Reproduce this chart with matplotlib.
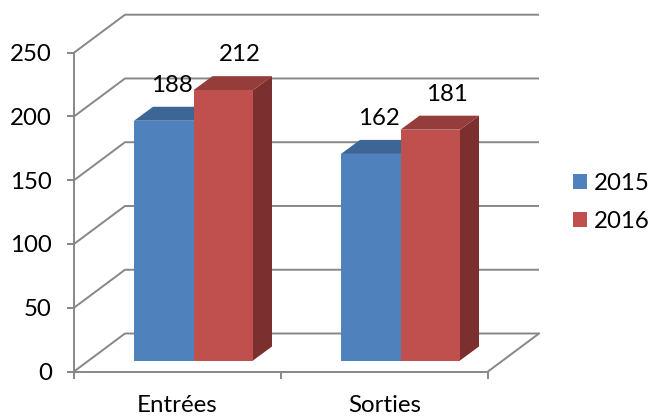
import matplotlib
matplotlib.use('Agg')
import matplotlib.pyplot as plt
from matplotlib.patches import Polygon, Patch

# ---- data ----
categories = ['Entrées', 'Sorties']
series_names = ['2015', '2016']
values_2015 = [188, 162]
values_2016 = [212, 181]
y_ticks = [0, 50, 100, 150, 200, 250]

# ---- style ----
front_colors = ['#4F81BD', '#C0504D']
top_colors = ['#3D6696', '#943D3B']
side_colors = ['#2F5078', '#7B302F']
grid_color = '#878787'
FONT = ['Lato', 'DejaVu Sans']
FS = 17.3
plt.rcParams['font.family'] = FONT

W, H, DPI = 651, 416, 100
fig = plt.figure(figsize=(W / DPI, H / DPI), dpi=DPI)
fig.patch.set_facecolor('white')
L, R, B, T = 74, 488, 371.5, 52.7
ax = fig.add_axes([L / W, 1 - B / H, (R - L) / W, (B - T) / H])
ax.set_xlim(0, len(categories))
ax.set_ylim(0, 250)
ax.set_facecolor('none')

px_x = (R - L) / len(categories)
px_y = (B - T) / 250.0


def dx(p):
    return p / px_x


def dy(p):
    return p / px_y


wall = (dx(51), dy(38))
bar_off = (dx(16), dy(11))
depth = (dx(19), dy(14))
bar_w = dx(59.5)
lw = 1.4

# gridlines (diagonal on side wall + horizontal on back wall)
xmax = len(categories)
for y in y_ticks:
    ax.plot([0, wall[0], xmax + wall[0]], [y, y + wall[1], y + wall[1]],
            color=grid_color, lw=lw, clip_on=False, zorder=1,
            solid_capstyle='butt')
# right floor edge
ax.plot([xmax, xmax + wall[0]], [0, wall[1]], color=grid_color, lw=lw,
        clip_on=False, zorder=1)

# bars
series = [values_2015, values_2016]
label_off = dy(15)
label_shift = [dx(-1), dx(7)]
for i, cat in enumerate(categories):
    center = i + 0.5
    for j, vals in enumerate(series):
        v = vals[i]
        x0 = center - bar_w + j * bar_w + bar_off[0]
        x1 = x0 + bar_w
        y0 = bar_off[1]
        y1 = v + bar_off[1]
        ddx, ddy = depth
        side = Polygon([(x1, y0), (x1, y1), (x1 + ddx, y1 + ddy), (x1 + ddx, y0 + ddy)],
                       closed=True, facecolor=side_colors[j], edgecolor='none',
                       clip_on=False, zorder=2 + j * 3)
        top = Polygon([(x0, y1), (x1, y1), (x1 + ddx, y1 + ddy), (x0 + ddx, y1 + ddy)],
                      closed=True, facecolor=top_colors[j], edgecolor='none',
                      clip_on=False, zorder=3 + j * 3)
        front = Polygon([(x0, y0), (x1, y0), (x1, y1), (x0, y1)],
                        closed=True, facecolor=front_colors[j], edgecolor='none',
                        clip_on=False, zorder=4 + j * 3)
        for p in (side, top, front):
            ax.add_patch(p)
        ax.text((x0 + x1) / 2 + ddx / 2 + label_shift[j], y1 + ddy + label_off, str(v),
                ha='center', va='baseline', fontsize=FS, color='black',
                zorder=20, clip_on=False)

# axes / spines
for s in ('top', 'right'):
    ax.spines[s].set_visible(False)
for s in ('left', 'bottom'):
    ax.spines[s].set_color(grid_color)
    ax.spines[s].set_linewidth(lw)
    ax.spines[s].set_zorder(1)

ax.set_yticks(y_ticks)
ax.set_yticklabels([str(t) for t in y_ticks])
ax.tick_params(axis='y', direction='out', length=5, width=lw, color=grid_color,
               pad=11, labelsize=FS, labelcolor='black')

ax.set_xticks(range(len(categories) + 1))
ax.set_xticklabels([])
ax.set_xticks([i + 0.5 for i in range(len(categories))], minor=True)
ax.set_xticklabels(categories, minor=True)
ax.tick_params(axis='x', which='major', direction='out', length=5, width=lw,
               color=grid_color)
ax.tick_params(axis='x', which='minor', length=0, pad=17, labelsize=FS,
               labelcolor='black')

handles = [Patch(facecolor=front_colors[k], edgecolor='none', label=series_names[k])
           for k in range(len(series_names))]
fig.legend(handles=handles, loc='center left',
           bbox_to_anchor=(573 / W, 1 - 202.5 / H), frameon=False,
           fontsize=FS, handlelength=0.6, handleheight=0.6,
           handletextpad=0.28, labelspacing=0.7, borderpad=0,
           borderaxespad=0)

fig.savefig('out.png', dpi=DPI, facecolor='white')
